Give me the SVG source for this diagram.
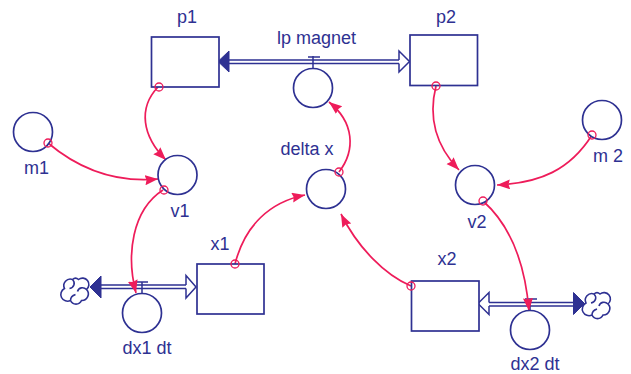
<svg xmlns="http://www.w3.org/2000/svg" width="631" height="374" viewBox="0 0 631 374">
<defs>
<marker id="ah" markerUnits="userSpaceOnUse" markerWidth="15" markerHeight="11" refX="13" refY="5" orient="auto"><path d="M0 0L13 5L0 10L1.500 5Z" fill="#ee1c5a"/></marker>
<g id="cl"><path d="M-3 -11A6.500 6.500 0 0 0 -11 -2A6.500 6.500 0 0 0 -5 10A6 6 0 0 0 6 10A6.500 6.500 0 0 0 11 -1A6 6 0 0 0 3 -11A4.500 4.500 0 0 0 -3 -11ZM-3 -11C0 -8 -1 -3 -6 -2M11 -1C8 -4 3 -3 2 1M-5 10C-5 7 -3 5 0 4"/></g>
</defs>
<style>
.b{fill:#fff;stroke:#2e3192;stroke-width:1.700}
.p{fill:none;stroke:#2e3192;stroke-width:1.500}
.c{fill:none;stroke:#2e3192;stroke-width:1.600}
.f{fill:#2e3192;stroke:#2e3192;stroke-width:1}
.o{fill:#fff;stroke:#2e3192;stroke-width:1.500}
.l{fill:none;stroke:#ee1c5a;stroke-width:1.700;marker-end:url(#ah)}
.d{fill:none;stroke:#ee1c5a;stroke-width:1.300}
text{font-family:"Liberation Sans",Arial,sans-serif;font-size:18px;fill:#2e3192;text-anchor:middle}
</style>
<g id="connectors">
<path class="p" d="M226 60H399M226 63.500H399"/>
<path class="f" d="M218 61.500L229 51V72Z"/>
<path class="o" d="M399 60V51L409.500 61.500L399 72V63.500"/>
<path class="p" d="M313 56V69M308 57H320"/>
<path class="p" d="M98 285H186M98 288.500H186M142 282V294M136 282H148"/>
<path class="f" d="M90 287L101 276V298Z"/>
<path class="o" d="M186 285V275.500L196 287L186 298V288.500"/>
<path class="p" d="M489 302.500H577M489 306H577M530 299V311M525 299H537"/>
<path class="f" d="M584.500 303.500L573.500 292.500V314.500Z"/>
<path class="o" d="M489 302.500V292.500L478 303.500L489 314.500V306"/>
<path class="l" d="M158 87C138 108 142 136 166 160"/>
<path class="l" d="M48 143C80 170 115 183 158 179"/>
<path class="l" d="M163 190C132 210 126 255 136 293"/>
<path class="l" d="M235 264C245 225 270 202 305 195"/>
<path class="l" d="M339 172C356 150 354 122 329 102"/>
<path class="l" d="M411 286C385 275 358 248 341 214"/>
<path class="l" d="M436 86C428 118 435 145 459 170"/>
<path class="l" d="M592 135C570 170 540 183 497 185"/>
<path class="l" d="M483 201C510 225 525 262 529 311"/>
</g>
<g id="p1"><rect class="b" x="151.500" y="37" width="67.500" height="50"/><text x="187" y="23">p1</text></g>
<g id="p2"><rect class="b" x="410" y="35" width="67.500" height="50.500"/><text x="446" y="23">p2</text></g>
<g id="lp_magnet"><circle class="b" cx="313" cy="88" r="19.500"/><text x="316.500" y="44">lp magnet</text></g>
<g id="m1"><circle class="b" cx="33" cy="132" r="19.500"/><text x="36.500" y="174">m1</text></g>
<g id="v1"><circle class="b" cx="177.500" cy="175" r="19.500"/><text x="180" y="217">v1</text></g>
<g id="delta_x"><circle class="b" cx="326" cy="189" r="19.500"/><text x="307" y="155">delta x</text></g>
<g id="v2"><circle class="b" cx="475" cy="185" r="19.500"/><text x="477" y="228">v2</text></g>
<g id="m_2"><circle class="b" cx="602" cy="120" r="19.500"/><text x="608" y="162">m 2</text></g>
<g id="x1"><rect class="b" x="197" y="264" width="67" height="50"/><text x="220" y="250">x1</text></g>
<g id="x2"><rect class="b" x="411.500" y="281" width="67.500" height="50"/><text x="447" y="265">x2</text></g>
<g id="dx1_dt"><circle class="b" cx="142" cy="313" r="19.500"/><text x="147" y="354">dx1 dt</text></g>
<g id="dx2_dt"><circle class="b" cx="530" cy="330" r="19.500"/><text x="535" y="370">dx2 dt</text></g>
<g id="cloud1"><use href="#cl" class="c" x="75.500" y="290.500"/></g>
<g id="cloud2"><use href="#cl" class="c" x="597" y="305"/></g>
<g id="dots">
<circle class="d" cx="159" cy="87" r="4"/>
<circle class="d" cx="48" cy="143" r="4"/>
<circle class="d" cx="164" cy="190" r="4"/>
<circle class="d" cx="235" cy="264" r="4"/>
<circle class="d" cx="339" cy="172" r="4"/>
<circle class="d" cx="411" cy="286" r="4"/>
<circle class="d" cx="436" cy="86" r="4"/>
<circle class="d" cx="592" cy="135" r="4"/>
<circle class="d" cx="483" cy="201" r="4"/>
</g>
</svg>
